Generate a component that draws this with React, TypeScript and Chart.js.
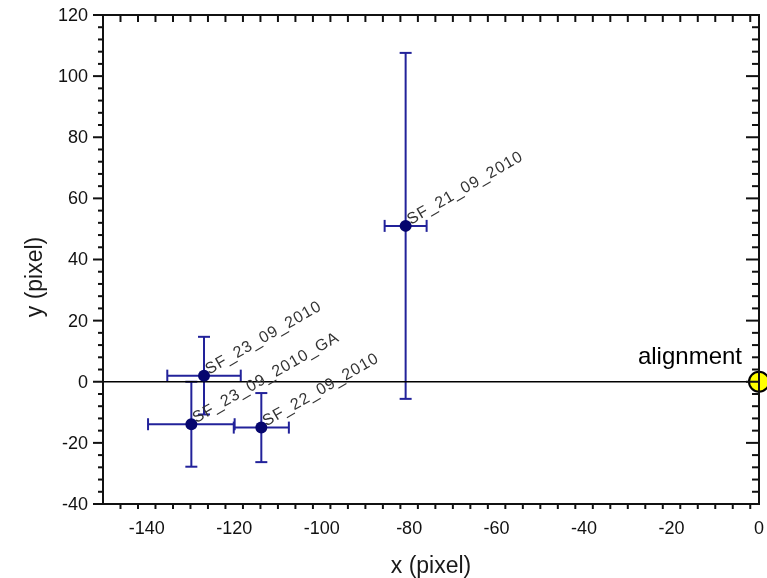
import { useEffect, useRef } from 'react';
import { Chart, registerables } from 'chart.js';

Chart.register(...registerables);

// Sample centroids with symmetric uncertainties (pixel units)
const sampleNames = ['SF_21_09_2010', 'SF_23_09_2010', 'SF_23_09_2010_GA', 'SF_22_09_2010'];
const xValues = [-80.8, -126.9, -129.8, -113.8];
const yValues = [51, 2, -13.9, -15];
const xErrors = [4.8, 8.4, 9.9, 6.3];
const yErrors = [56.6, 12.7, 13.9, 11.3];

// Reference point
const alignmentLabel = 'alignment';
const alignmentX = [0];
const alignmentY = [0];

// Axis ticks
const xTicks = [-140, -120, -100, -80, -60, -40, -20, 0];
const yTicks = [-40, -20, 0, 20, 40, 60, 80, 100, 120];
const minorStep = 4;
const xRange = [-150, 0];
const yRange = [-40, 120];
const xTitle = 'x (pixel)';
const yTitle = 'y (pixel)';

const FONT = 'Arial, "Liberation Sans", Helvetica, sans-serif';
const BAR_COLOR = '#22229a';
const POINT_COLOR = '#06066e';
const CAP = 6;

function line(ctx: CanvasRenderingContext2D, x0: number, y0: number, x1: number, y1: number) {
  ctx.beginPath();
  ctx.moveTo(x0, y0);
  ctx.lineTo(x1, y1);
  ctx.stroke();
}

const errorBarPlugin = {
  id: 'errorBars',
  beforeDatasetsDraw(chart: any) {
    const { ctx, chartArea: a, scales } = chart;
    const xs = scales.x;
    const ys = scales.y;
    ctx.save();
    ctx.strokeStyle = BAR_COLOR;
    ctx.lineWidth = 2;
    for (let i = 0; i < xValues.length; i++) {
      const px = xs.getPixelForValue(xValues[i]);
      const py = ys.getPixelForValue(yValues[i]);
      const xl = xs.getPixelForValue(xValues[i] - xErrors[i]);
      const xr = xs.getPixelForValue(xValues[i] + xErrors[i]);
      const yt = ys.getPixelForValue(yValues[i] + yErrors[i]);
      const yb = ys.getPixelForValue(yValues[i] - yErrors[i]);
      line(ctx, xl, py, xr, py);
      line(ctx, px, yt, px, yb);
      line(ctx, xl, py - CAP, xl, py + CAP);
      line(ctx, xr, py - CAP, xr, py + CAP);
      line(ctx, px - CAP, yt, px + CAP, yt);
      line(ctx, px - CAP, yb, px + CAP, yb);
    }
    // y = 0 line
    const y0 = ys.getPixelForValue(0);
    ctx.strokeStyle = '#000';
    ctx.lineWidth = 1.5;
    line(ctx, a.left, y0, a.right, y0);
    ctx.restore();
  },
};

const framePlugin = {
  id: 'frame',
  afterDatasetsDraw(chart: any) {
    const { ctx, chartArea: a, scales } = chart;
    const xs = scales.x;
    const ys = scales.y;
    ctx.save();
    ctx.strokeStyle = '#111';
    ctx.lineWidth = 2;
    ctx.lineCap = 'butt';

    // ticks (minor every 4, major at labelled values); outer on bottom/left, inner on top/right
    for (let v = xRange[0]; v <= xRange[1]; v += minorStep) {
      if (v === xRange[0]) continue;
      const px = xs.getPixelForValue(v);
      const major = xTicks.includes(v);
      line(ctx, px, a.bottom, px, a.bottom + (major ? 10 : 5));
      if (v !== xRange[1]) line(ctx, px, a.top, px, a.top + (major ? 13 : 7));
    }
    for (let v = yRange[0]; v <= yRange[1]; v += minorStep) {
      const py = ys.getPixelForValue(v);
      const major = yTicks.includes(v);
      line(ctx, a.left - (major ? 10 : 5), py, a.left, py);
      if (v !== yRange[0] && v !== yRange[1]) line(ctx, a.right - (major ? 13 : 7), py, a.right, py);
    }

    // frame
    ctx.strokeRect(a.left, a.top, a.right - a.left, a.bottom - a.top);

    // tick labels
    ctx.fillStyle = '#111';
    ctx.font = `18px ${FONT}`;
    ctx.textAlign = 'center';
    ctx.textBaseline = 'middle';
    for (const v of xTicks) {
      ctx.fillText(String(v), xs.getPixelForValue(v), a.bottom + 25);
    }
    ctx.textAlign = 'right';
    for (const v of yTicks) {
      ctx.fillText(String(v), a.left - 15, ys.getPixelForValue(v) + 1);
    }

    // axis titles
    ctx.fillStyle = '#1a1a1a';
    ctx.font = `23px ${FONT}`;
    ctx.textAlign = 'center';
    ctx.textBaseline = 'alphabetic';
    ctx.fillText(xTitle, (a.left + a.right) / 2, 573);
    ctx.save();
    ctx.translate(42, 277);
    ctx.rotate(-Math.PI / 2);
    ctx.fillText(yTitle, 0, 0);
    ctx.restore();

    // sample labels
    ctx.fillStyle = '#333';
    ctx.font = `16px ${FONT}`;
    (ctx as any).letterSpacing = '1px';
    ctx.textAlign = 'left';
    ctx.textBaseline = 'alphabetic';
    for (let i = 0; i < sampleNames.length; i++) {
      const px = xs.getPixelForValue(xValues[i]);
      const py = ys.getPixelForValue(yValues[i]);
      ctx.save();
      ctx.translate(px + 5, py - 1);
      ctx.rotate(-Math.PI / 6);
      ctx.fillText(sampleNames[i], 0, 0);
      ctx.restore();
    }
    (ctx as any).letterSpacing = '0px';

    // alignment label
    ctx.fillStyle = '#000';
    ctx.font = `24px ${FONT}`;
    ctx.textAlign = 'right';
    ctx.fillText(
      alignmentLabel,
      xs.getPixelForValue(alignmentX[0]) - 17,
      ys.getPixelForValue(alignmentY[0]) - 18
    );
    ctx.restore();
  },
};

export default function App() {
  const canvasRef = useRef<HTMLCanvasElement | null>(null);

  useEffect(() => {
    const canvas = canvasRef.current;
    if (!canvas) return;
    const chart = new Chart(canvas, {
      type: 'scatter',
      data: {
        datasets: [
          {
            data: xValues.map((x, i) => ({ x, y: yValues[i] })),
            pointRadius: 6,
            pointBackgroundColor: POINT_COLOR,
            pointBorderColor: POINT_COLOR,
            pointBorderWidth: 0,
            order: 2,
          },
          {
            data: alignmentX.map((x, i) => ({ x, y: alignmentY[i] })),
            pointRadius: 10,
            pointBackgroundColor: '#ffff00',
            pointBorderColor: '#000',
            pointBorderWidth: 2,
            clip: false as any,
            order: 1,
          },
        ],
      },
      options: {
        animation: false,
        responsive: false,
        devicePixelRatio: 1,
        layout: { autoPadding: false, padding: { top: 15, right: 8, left: 0, bottom: 0 } },
        plugins: {
          legend: { display: false },
          tooltip: { enabled: false },
        },
        scales: {
          x: {
            type: 'linear',
            min: xRange[0],
            max: xRange[1],
            ticks: { display: false },
            grid: { display: false },
            border: { display: false },
            afterFit: (s: any) => {
              s.height = 74;
            },
          },
          y: {
            type: 'linear',
            min: yRange[0],
            max: yRange[1],
            ticks: { display: false },
            grid: { display: false },
            border: { display: false },
            afterFit: (s: any) => {
              s.width = 103;
            },
          },
        },
      },
      plugins: [errorBarPlugin, framePlugin],
    });
    return () => chart.destroy();
  }, []);

  return (
    <div style={{ position: 'fixed', left: 0, top: 0, width: 767, height: 578, background: '#fff' }}>
      <canvas ref={canvasRef} width={767} height={578} />
    </div>
  );
}
